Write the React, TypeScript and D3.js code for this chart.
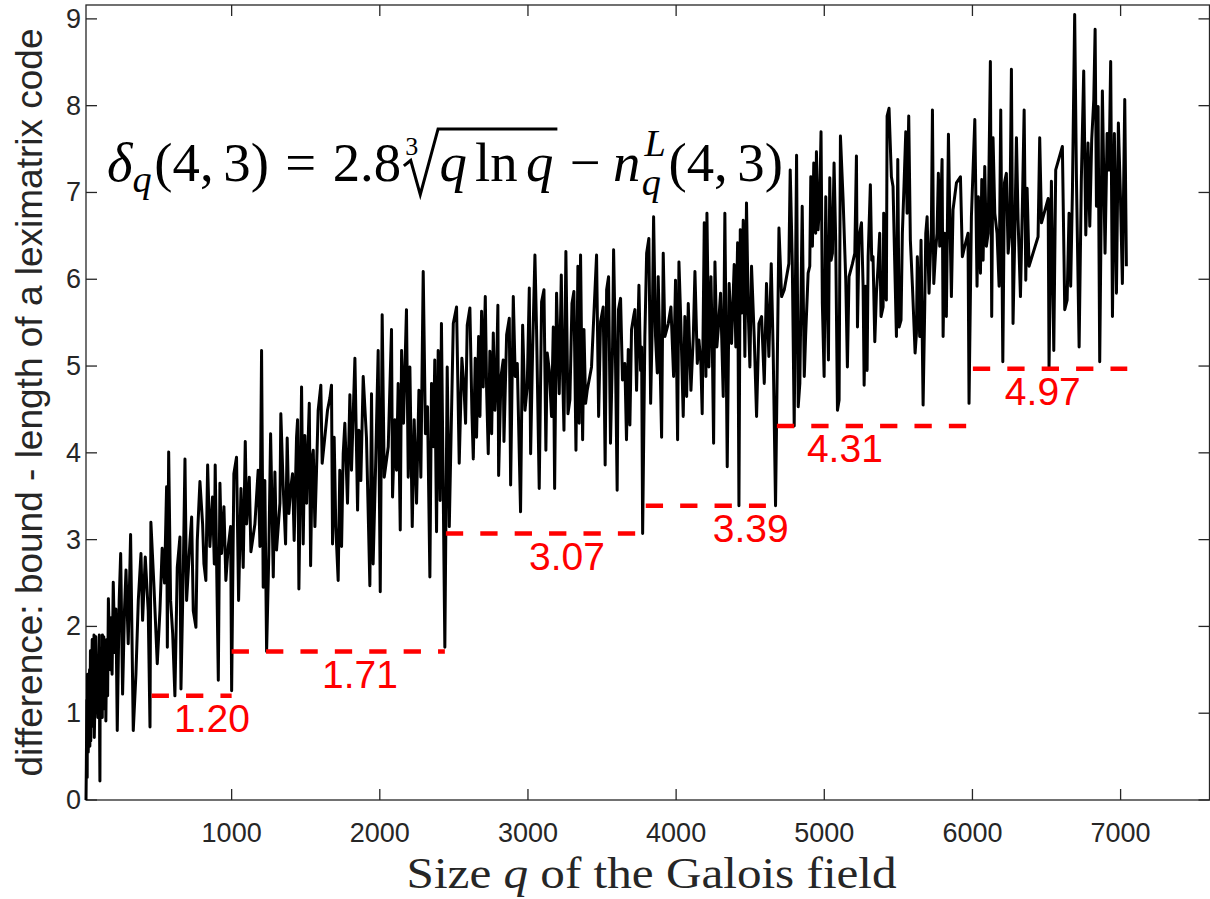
import React, { useRef, useEffect } from 'react';
import * as d3 from 'd3';

const width = 1210;
const height = 899;
const box = { left: 86, right: 1209.5, top: 5, bottom: 800 };

const xTicks = [1000, 2000, 3000, 4000, 5000, 6000, 7000];
const yTicks = [0, 1, 2, 3, 4, 5, 6, 7, 8, 9];

// [q, difference], left to right
const seg0: [number, number][] = [
  [17, 0], [19, 0.34], [23, 1.15], [25, 0.26], [27, 1.45], [29, 0.7], [31, 1.3], [32, 0.55],
  [37, 0.95], [41, 1.5], [43, 0.62], [47, 1.72], [49, 0.68], [53, 1.25], [59, 1.85], [61, 0.85],
  [64, 1.6], [67, 0.9], [71, 1.9], [73, 0.72], [79, 1.3], [81, 1.05], [83, 1.88], [89, 1.4],
  [97, 0.95], [101, 1.65], [103, 1.1], [107, 1.9], [109, 0.7], [111, 0.22], [113, 1.5], [121, 1.35],
  [125, 1.75], [127, 0.95], [128, 1.9], [131, 1.3], [137, 1.88], [139, 1.05], [149, 1.6], [151, 0.91],
  [157, 1.85], [163, 1.2],
];
const seg1: [number, number][] = [
  [168, 2.32], [180, 1.5], [186, 2.1], [193, 1.45], [201, 2.51], [211, 1.7], [219, 2.2], [228, 0.8],
  [241, 2.3], [251, 2.84], [264, 1.22], [277, 2.2], [287, 2.65], [302, 1.8], [318, 3.06], [336, 0.8],
  [354, 1.45], [370, 2.3], [388, 2.84], [399, 2.07], [417, 2.8], [437, 2.18], [449, 0.84], [455, 3.2],
  [476, 2.45], [498, 1.57], [516, 2.18], [531, 2.9], [547, 2.5], [561, 3.61], [566, 1.76], [575, 4.01],
  [588, 2.3], [602, 1.92], [617, 1.2], [633, 2.68], [651, 3.03], [658, 1.28], [674, 2.68], [685, 3.93],
  [696, 2.3], [719, 2.99], [730, 3.26], [741, 2.18], [759, 1.99], [768, 2.99], [786, 3.67], [804, 3.18],
  [813, 2.72], [826, 2.53], [838, 3.86], [853, 2.92], [871, 3.49], [883, 2.72], [889, 3.86], [910, 1.38],
  [921, 3.65], [932, 2.84], [948, 3.38], [961, 2.53], [977, 2.92], [993, 3.15], [1000, 1.26], [1015, 3.76],
  [1033, 3.95], [1047, 2.3], [1063, 3.59], [1078, 2.68], [1092, 4.13], [1101, 3.18], [1119, 3.72], [1130, 2.86],
];
const seg2: [number, number][] = [
  [1157, 3.18], [1168, 3.49], [1179, 3.8], [1191, 2.92], [1202, 5.18], [1213, 2.45], [1224, 3.68], [1236, 1.71],
  [1251, 2.84], [1263, 4.22], [1281, 2.57], [1292, 3.78], [1303, 2.88], [1326, 3.42], [1332, 4.45], [1348, 3.61],
  [1364, 2.95], [1375, 4.17], [1386, 3.3], [1400, 3.61], [1411, 3.76], [1422, 2.99], [1438, 4.18], [1445, 4.38],
  [1454, 2.43], [1472, 4.76], [1483, 2.95], [1494, 4.2], [1506, 3.42], [1517, 4.18], [1524, 4.57], [1533, 2.7],
  [1544, 3.95], [1551, 4.03], [1562, 3.15], [1573, 3.8], [1584, 4.49], [1602, 4.78], [1611, 3.88], [1629, 4.18],
  [1647, 4.49], [1663, 4.63], [1674, 4.78], [1681, 2.95], [1692, 4.18], [1703, 3.15], [1719, 2.53], [1730, 3.8],
  [1742, 2.92], [1753, 3.99], [1764, 4.34], [1782, 3.42], [1798, 4.67], [1809, 3.8], [1832, 5.09], [1850, 3.34],
  [1859, 4.26], [1872, 3.68], [1888, 4.88], [1910, 4.18], [1933, 2.47], [1944, 4.68], [1955, 2.72], [1971, 3.8],
  [1989, 5.18], [2003, 2.4], [2016, 5.59], [2030, 3.72], [2057, 4.07], [2079, 5.42], [2086, 3.49], [2102, 4.38],
  [2113, 3.8], [2124, 4.8], [2138, 3.11], [2147, 5.18], [2160, 4.34], [2180, 5.65], [2192, 3.72], [2203, 4.99],
  [2219, 3.15], [2232, 4.38], [2248, 3.42], [2264, 4.72], [2277, 3.72], [2293, 6.09], [2308, 4.22], [2322, 4.53],
  [2338, 2.57], [2349, 4.8], [2362, 4.07], [2371, 5.07], [2383, 3.09], [2394, 5.18], [2407, 3.45], [2416, 5.49],
  [2428, 3.57], [2439, 1.76],
];
const seg3: [number, number][] = [
  [2455, 4.99], [2469, 3.15], [2496, 5.49], [2518, 5.68], [2536, 3.88], [2554, 5.09], [2568, 4.76], [2579, 4.34],
  [2590, 5.47], [2608, 5.67], [2622, 4.45], [2631, 3.93], [2644, 5.09], [2653, 4.18], [2667, 5.34], [2676, 4.42],
  [2687, 5.63], [2698, 4.76], [2712, 5.8], [2721, 4.72], [2732, 3.99], [2743, 5.17], [2755, 4.22], [2766, 5.38],
  [2777, 4.49], [2788, 4.92], [2797, 5.7], [2802, 3.74], [2818, 4.88], [2833, 5.07], [2838, 4.13], [2856, 5.36],
  [2874, 5.55], [2883, 3.63], [2901, 5.8], [2914, 4.88], [2928, 5.03], [2950, 3.32], [2964, 5.47], [2980, 4.49],
  [2995, 4.76], [3009, 5.9], [3018, 3.99], [3031, 5.15], [3047, 6.28], [3058, 5.42], [3076, 3.59], [3092, 5.74],
  [3108, 5.88], [3121, 4.03], [3130, 5.15], [3144, 4.95], [3159, 4.42], [3171, 5.45], [3180, 3.59], [3193, 5.84],
  [3211, 4.68], [3225, 6.05], [3234, 4.93], [3243, 4.26], [3256, 6.32], [3270, 4.45], [3283, 4.61], [3297, 5.72],
  [3310, 5.86], [3324, 4.03], [3337, 6.15], [3346, 4.34], [3355, 6.28], [3369, 4.15], [3378, 5.42], [3389, 4.57],
  [3400, 4.72], [3429, 4.99], [3463, 6.28], [3477, 4.42], [3490, 5.51], [3508, 5.68], [3521, 3.86], [3531, 5.88],
  [3544, 6.03], [3557, 4.11], [3571, 5.22], [3578, 6.34], [3589, 5.3], [3602, 3.57], [3611, 5.65], [3625, 5.78],
  [3638, 4.84], [3654, 5.03], [3665, 4.15], [3677, 5.19], [3688, 4.32], [3699, 5.42], [3715, 5.59],
];
const seg4: [number, number][] = [
  [3722, 5.65], [3733, 4.72], [3749, 5.93], [3760, 4.95], [3767, 5.22], [3774, 3.07], [3789, 5.34], [3801, 6.3],
  [3816, 6.47], [3828, 4.57], [3839, 5.49], [3848, 6.72], [3861, 5.34], [3873, 4.92], [3879, 6.03], [3891, 5.11],
  [3902, 4.18], [3913, 6.3], [3924, 5.34], [3947, 5.49], [3965, 5.68], [3983, 4.88], [3996, 5.99], [4010, 4.15],
  [4019, 6.2], [4032, 5.49], [4048, 4.42], [4059, 5.57], [4071, 4.65], [4082, 5.72], [4100, 4.72], [4116, 5.34],
  [4127, 6.09], [4143, 5.03], [4154, 5.3], [4167, 5.03], [4176, 4.45], [4190, 6.65], [4201, 4.88], [4208, 6.76],
  [4221, 4.99], [4235, 6.03], [4244, 5.26], [4253, 4.11], [4262, 6.2], [4275, 5.22], [4284, 5.42], [4300, 5.84],
  [4318, 4.65], [4329, 6.76], [4345, 3.84], [4358, 5.95], [4374, 5.26], [4392, 6.17], [4403, 5.22], [4415, 6.42],
  [4424, 3.39], [4433, 6.57], [4442, 5.61], [4453, 6.68], [4464, 5.11], [4475, 6.88], [4487, 5.61], [4498, 4.99],
  [4509, 6.15], [4527, 5.34], [4543, 4.42], [4559, 5.49], [4577, 5.57], [4595, 4.8], [4610, 5.95], [4626, 5.11],
  [4642, 6.18], [4655, 5.18], [4671, 3.39], [4685, 5.34], [4694, 6.59], [4712, 5.8], [4730, 5.88], [4761, 6.18],
  [4770, 7.26], [4784, 6.2], [4797, 4.31], [4813, 7.43], [4824, 4.53], [4835, 4.8], [4851, 6.84], [4865, 4.88],
  [4874, 5.34], [4891, 6.07],
];
const seg5: [number, number][] = [
  [4902, 6.15], [4909, 7.18], [4920, 6.38], [4929, 7.34], [4942, 6.53], [4947, 7.47], [4958, 6.57], [4969, 6.88],
  [4978, 7.7], [4987, 5.72], [4999, 4.88], [5010, 6.95], [5019, 5.88], [5028, 5.07], [5037, 7.17], [5046, 6.22],
  [5055, 6.3], [5066, 7.34], [5077, 6.45], [5089, 4.49], [5100, 4.61], [5109, 7.65], [5127, 6.92], [5145, 5.99],
  [5156, 4.99], [5167, 6.03], [5190, 6.18], [5206, 6.3], [5217, 7.42], [5224, 5.45], [5235, 6.49], [5251, 6.65],
  [5262, 5.92], [5269, 4.78], [5280, 5.92], [5289, 4.95], [5296, 6.26], [5311, 7.09], [5320, 6.22], [5329, 6.26],
  [5341, 5.28], [5352, 5.84], [5363, 6.15], [5374, 6.53], [5383, 5.57], [5397, 5.68], [5401, 6.76], [5410, 5.84],
  [5419, 5.76], [5424, 7.88], [5437, 7.97], [5453, 7.18], [5464, 7.07], [5475, 6.22], [5487, 5.34], [5496, 7.38],
  [5505, 5.45], [5518, 5.53], [5527, 6.53], [5538, 7.07], [5550, 7.7], [5559, 6.76], [5570, 7.88], [5581, 6.45],
  [5595, 5.92], [5613, 5.15], [5622, 5.38], [5628, 6.26], [5644, 5.34], [5653, 6.45], [5667, 4.55], [5678, 5.68],
  [5685, 6.53], [5694, 6.72], [5707, 5.84], [5723, 6.61], [5730, 7.95], [5739, 5.95], [5752, 6.34], [5761, 6.53],
  [5770, 7.22], [5779, 6.38], [5795, 7.38], [5802, 5.34], [5813, 6.53], [5824, 5.57], [5838, 7.67], [5847, 6.76],
  [5858, 5.8], [5869, 6.8], [5880, 6.95], [5892, 7.11], [5919, 7.18], [5932, 6.26], [5948, 6.38], [5970, 6.53],
  [5977, 4.57],
];
const seg6: [number, number][] = [
  [5993, 6.72], [6016, 7.84], [6031, 5.92], [6040, 6.95], [6054, 6.07], [6063, 7.15], [6072, 6.22], [6083, 7.3],
  [6094, 6.38], [6106, 6.53], [6121, 8.51], [6130, 5.57], [6139, 7.63], [6151, 6.76], [6166, 6.53], [6180, 5.92],
  [6191, 7.95], [6205, 5.05], [6216, 7.11], [6229, 7.22], [6241, 6.3], [6252, 6.53], [6263, 8.42], [6274, 5.49],
  [6286, 6.53], [6297, 7.63], [6308, 6.68], [6324, 5.8], [6337, 6.84], [6349, 7.95], [6360, 5.99], [6369, 7.05],
  [6382, 6.15], [6443, 6.49], [6454, 7.63], [6466, 6.65], [6511, 6.93], [6517, 4.97], [6533, 7.13], [6549, 5.18],
  [6562, 7.26], [6607, 7.53], [6623, 5.65], [6639, 5.76], [6652, 6.76], [6663, 5.92], [6675, 7.03], [6690, 9.05],
  [6702, 7.15], [6720, 5.22], [6735, 7.15], [6751, 8.4], [6765, 6.51], [6780, 7.57], [6792, 6.61], [6805, 7.61],
  [6819, 8.07], [6828, 8.88], [6837, 6.84], [6848, 7.99], [6859, 5.05], [6877, 8.17], [6895, 6.3], [6909, 7.68],
  [6922, 7.26], [6933, 8.51], [6945, 5.57], [6958, 7.68], [6972, 5.84], [6985, 7.8], [6999, 6.95], [7012, 5.95],
  [7028, 8.07], [7039, 6.15],
];

// minimum levels shown as red dashed steps
const stepLevels = [1.2, 1.71, 3.07, 3.39, 4.31, 4.97];
const stepStart = [460, 1000, 2446, 3795, 4680, 6003];
const stepEnd = [1000, 2439, 3742, 4606, 5962, 7045];
const labelQ = [867, 1866, 3263, 4504, 5139, 6475];
const labelText = ['1.20', '1.71', '3.07', '3.39', '4.31', '4.97'];

const axisColor = '#262626';

function Formula() {
  const ref = useRef<SVGGElement>(null);

  useEffect(() => {
    const g = d3.select(ref.current);
    g.selectAll('*').remove();
    const inner = g.append('g')
      .attr('font-family', '"Liberation Serif", "DejaVu Serif", serif')
      .attr('fill', '#000');
    const F = 40;
    let cx = 0;
    const put = (t: string, o: { size?: number; it?: boolean; dy?: number; at?: number } = {}) => {
      const el = inner.append('text')
        .attr('x', o.at ?? cx)
        .attr('y', o.dy ?? 0)
        .attr('font-size', o.size ?? F)
        .attr('font-style', o.it ? 'italic' : 'normal')
        .text(t);
      const w = (el.node() as SVGTextElement).getComputedTextLength();
      if (o.at === undefined) cx += w;
      return w;
    };

    put('δ', { it: true });
    put('q', { it: true, size: 28, dy: 8 });
    cx += 2;
    put('(4,');
    cx += 7;
    put('3)');
    cx += 12;
    put('=');
    cx += 12;
    put('2.8');
    // cube root
    const r0 = cx;
    put('3', { size: 19, dy: -19, at: r0 + 3 });
    cx += 28;
    put('q', { it: true });
    cx += 6;
    put('ln');
    cx += 6;
    put('q', { it: true });
    const r1 = cx + 3;
    inner.append('path')
      .attr('d', `M${r0 + 2},-11 L${r0 + 7},-15 L${r0 + 14},10 L${r0 + 27},-38 L${r1},-38`)
      .attr('fill', 'none')
      .attr('stroke', '#000')
      .attr('stroke-width', 2.2)
      .attr('stroke-linejoin', 'miter');
    cx = r1 + 9;
    put('−');
    cx += 9;
    put('n', { it: true });
    const xn = cx + 1;
    const wL = put('L', { it: true, size: 28, dy: -18, at: xn + 2 });
    const wq = put('q', { it: true, size: 28, dy: 10, at: xn });
    cx = xn + Math.max(wL + 2, wq) + 2;
    put('(4,');
    cx += 7;
    put('3)');

    const s = 676 / cx;
    inner.attr('transform', `translate(107,181) scale(${s})`);
  }, []);

  return <g ref={ref} />;
}

export default function App() {
  const x = d3.scaleLinear().domain([17, 7600]).range([box.left, box.right]);
  const y = d3.scaleLinear().domain([0, 9.16]).range([box.bottom, box.top]);
  const series = [...seg0, ...seg1, ...seg2, ...seg3, ...seg4, ...seg5, ...seg6];
  const line = d3.line<[number, number]>().x(d => x(d[0])).y(d => y(d[1]));
  const tickLen = 11;

  return (
    <svg width={width} height={height} style={{ position: 'absolute', left: 0, top: 0, background: '#fff' }}>
      <rect x={0} y={0} width={width} height={height} fill="#fff" />

      {/* axes box and ticks */}
      <g stroke={axisColor} strokeWidth={1.3} fill="none">
        <rect x={box.left} y={box.top} width={box.right - box.left} height={box.bottom - box.top} />
        {xTicks.map(t => (
          <g key={'xt' + t}>
            <line x1={x(t)} x2={x(t)} y1={box.bottom} y2={box.bottom - tickLen} />
            <line x1={x(t)} x2={x(t)} y1={box.top} y2={box.top + tickLen} />
          </g>
        ))}
        {yTicks.map(t => (
          <g key={'yt' + t}>
            <line x1={box.left} x2={box.left + tickLen} y1={y(t)} y2={y(t)} />
            <line x1={box.right} x2={box.right - tickLen} y1={y(t)} y2={y(t)} />
          </g>
        ))}
      </g>

      <g fontFamily='"Liberation Sans", Arial, sans-serif' fontSize={27} fill={axisColor}>
        {xTicks.map(t => (
          <text key={'xl' + t} x={x(t)} y={842} textAnchor="middle">{t}</text>
        ))}
        {yTicks.map(t => (
          <text key={'yl' + t} x={81} y={y(t)} textAnchor="end" dominantBaseline="central">{t}</text>
        ))}
      </g>

      {/* data */}
      <path d={line(series) || ''} fill="none" stroke="#000" strokeWidth={3} strokeLinejoin="round" />

      {/* red minimum steps */}
      <g stroke="#ff0000" strokeWidth={4.5} strokeDasharray="17.3 17.1">
        {stepLevels.map((v, i) => (
          <line key={'st' + i} x1={x(stepStart[i])} x2={x(stepEnd[i])} y1={y(v)} y2={y(v)} />
        ))}
      </g>
      <g fontFamily='"Liberation Sans", Arial, sans-serif' fontSize={39} fill="#ff0000" textAnchor="middle">
        {stepLevels.map((v, i) => (
          <text key={'sl' + i} x={x(labelQ[i])} y={y(v) + 36}>{labelText[i]}</text>
        ))}
      </g>

      <Formula />

      {/* axis labels */}
      <text
        transform={`translate(42,${(box.top + box.bottom) / 2}) rotate(-90)`}
        textAnchor="middle"
        fontFamily='"Liberation Sans", Arial, sans-serif'
        fontSize={37}
        fill={axisColor}
      >
        difference: bound - length of a leximatrix code
      </text>
      <text
        x={406.6}
        y={888}
        fontFamily='"Liberation Serif", "DejaVu Serif", serif'
        fontSize={44}
        fill="#262626"
        textLength={490}
        lengthAdjust="spacingAndGlyphs"
      >
        Size <tspan fontStyle="italic">q</tspan> of the Galois field
      </text>
    </svg>
  );
}
